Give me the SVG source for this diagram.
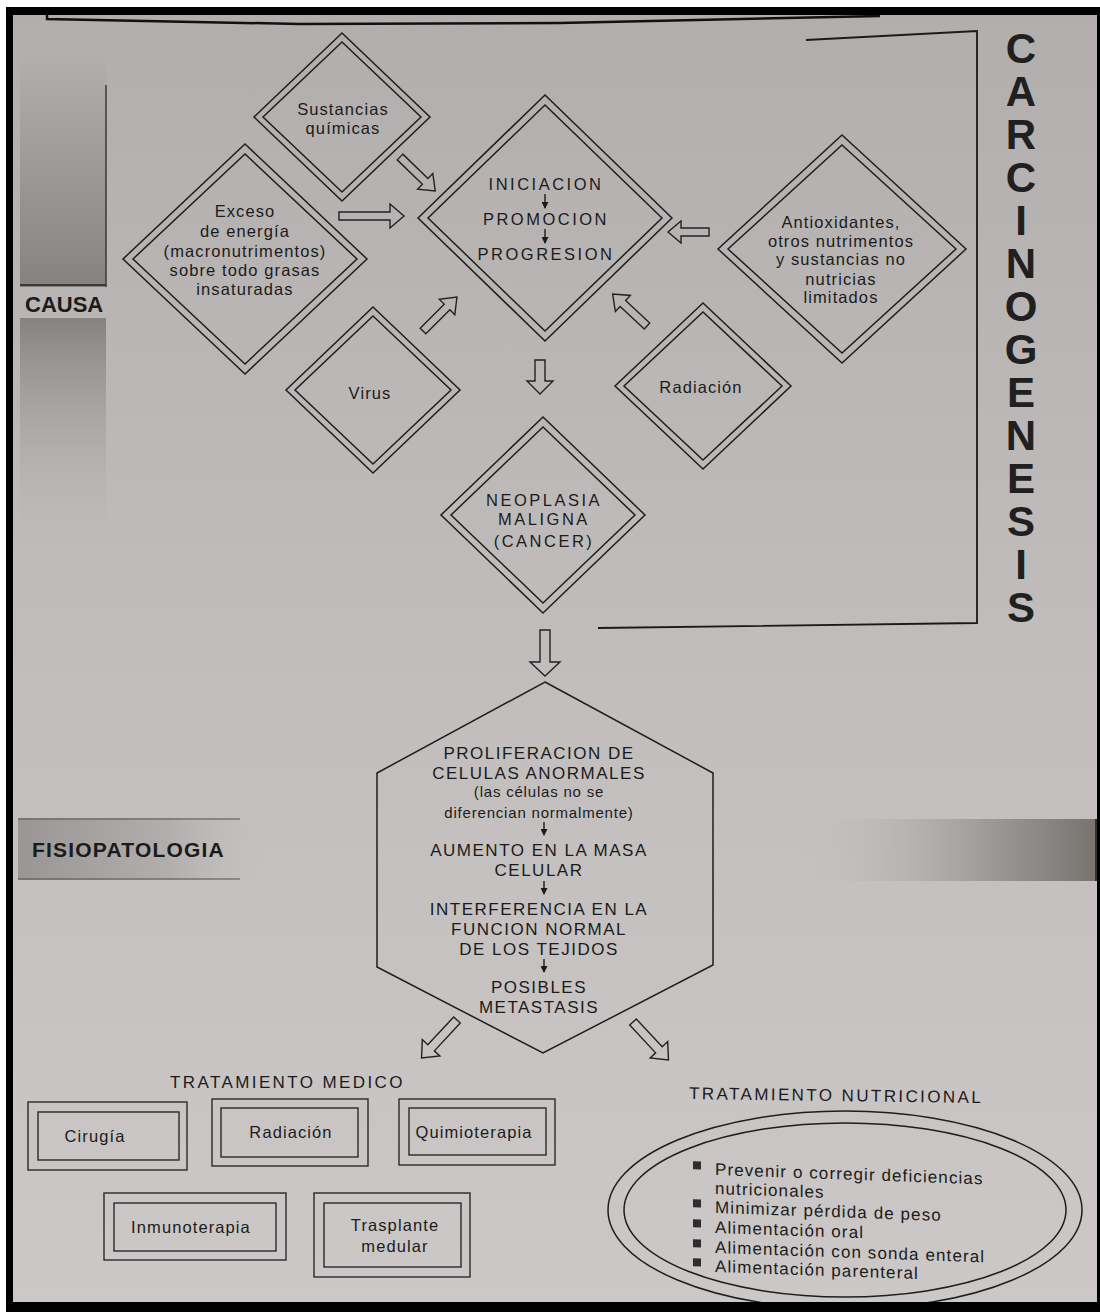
<svg xmlns="http://www.w3.org/2000/svg" width="1100" height="1312" viewBox="0 0 1100 1312">
<defs>
<linearGradient id="paper" x1="0" y1="0" x2="0" y2="1">
<stop offset="0" stop-color="#b2aead"/>
<stop offset="0.5" stop-color="#c1bdbc"/>
<stop offset="1" stop-color="#ccc8c7"/>
</linearGradient>
<linearGradient id="stripTop" x1="0" y1="0" x2="0" y2="1">
<stop offset="0" stop-color="#b3afae"/>
<stop offset="1" stop-color="#86827f"/>
</linearGradient>
<linearGradient id="stripBot" x1="0" y1="0" x2="0" y2="1">
<stop offset="0" stop-color="#86827f"/>
<stop offset="1" stop-color="#c0bcbb" stop-opacity="0"/>
</linearGradient>
<linearGradient id="bandL" x1="0" y1="0" x2="1" y2="0">
<stop offset="0" stop-color="#9a9695"/>
<stop offset="0.6" stop-color="#b2aead"/>
<stop offset="1" stop-color="#c4c0bf" stop-opacity="0"/>
</linearGradient>
<linearGradient id="bandR" x1="0" y1="0" x2="1" y2="0">
<stop offset="0" stop-color="#c4c0bf" stop-opacity="0"/>
<stop offset="0.5" stop-color="#aca8a7"/>
<stop offset="1" stop-color="#77736f"/>
</linearGradient>
<marker id="sm" markerWidth="7" markerHeight="7" refX="6" refY="3.5" orient="auto" markerUnits="userSpaceOnUse">
<path d="M0,0L7,3.5L0,7Z" fill="#1c1c1c"/>
</marker>
</defs>
<style>
.ln{fill:none;stroke:#1e1e1e;stroke-width:1.5}
.bx{fill:none;stroke:#2a2a2a;stroke-width:1.4}
.ar{fill:none;stroke:#222;stroke-width:1.4;stroke-linejoin:miter}
.t{font-family:"Liberation Sans",Arial,sans-serif;font-size:16.5px;letter-spacing:1.1px;fill:#1b1b1b;text-anchor:middle}
.cap{font-family:"Liberation Sans",Arial,sans-serif;font-size:16.5px;letter-spacing:2.5px;fill:#1b1b1b;text-anchor:middle}
.hx{font-family:"Liberation Sans",Arial,sans-serif;font-size:17px;letter-spacing:1.5px;fill:#1b1b1b;text-anchor:middle}
.sm{font-family:"Liberation Sans",Arial,sans-serif;font-size:15px;letter-spacing:0.8px;fill:#1b1b1b;text-anchor:middle}
.big{font-family:"Liberation Sans",Arial,sans-serif;font-size:42px;font-weight:bold;fill:#202020;text-anchor:middle}
.sec{font-family:"Liberation Sans",Arial,sans-serif;font-weight:bold;fill:#1b1b1b}
.hd{font-family:"Liberation Sans",Arial,sans-serif;font-size:17px;letter-spacing:2.4px;fill:#1b1b1b}
.li{font-family:"Liberation Sans",Arial,sans-serif;font-size:17px;letter-spacing:1.1px;fill:#1b1b1b}
.sa{stroke:#1c1c1c;stroke-width:1.4;marker-end:url(#sm)}
</style>

<!-- page / frame -->
<rect x="0" y="0" width="1100" height="1312" fill="#ffffff"/>
<rect x="6" y="7" width="1094" height="1305" fill="#000000"/>
<rect x="13" y="15" width="1084" height="1287" fill="url(#paper)"/>
<polyline points="47,14 47,19 300,24 560,23 880,16" fill="none" stroke="#111" stroke-width="2.5"/>

<!-- side decorations -->
<g id="causa-label">
<rect x="20" y="55" width="86" height="232" fill="url(#stripTop)"/>
<line x1="106" y1="85" x2="106" y2="287" stroke="#3a3a3a" stroke-width="1.5"/>
<line x1="20" y1="285" x2="106" y2="285" stroke="#3a3a3a" stroke-width="2"/>
<rect x="20" y="318" width="86" height="240" fill="url(#stripBot)"/>
<text class="sec" x="25" y="312" font-size="22">CAUSA</text>
</g>
<g id="fisio-label">
<rect x="18" y="818" width="252" height="62" fill="url(#bandL)"/>
<line x1="18" y1="819" x2="240" y2="819" stroke="#555" stroke-width="1.5" stroke-opacity="0.7"/>
<line x1="18" y1="879" x2="240" y2="879" stroke="#555" stroke-width="1.5" stroke-opacity="0.7"/>
<rect x="800" y="819" width="297" height="62" fill="url(#bandR)"/>
<line x1="1096" y1="819" x2="1096" y2="881" stroke="#333" stroke-width="2"/>
<text class="sec" x="32" y="857" font-size="21" letter-spacing="1.2">FISIOPATOLOGIA</text>
</g>

<!-- carcinogenesis bracket and title -->
<g id="carcinogenesis">
<polyline points="806,40 977,31 977,623 598,628" fill="none" stroke="#1a1a1a" stroke-width="1.8"/>
<text class="big"><tspan x="1021" y="63">C</tspan><tspan x="1021" y="106">A</tspan><tspan x="1021" y="149">R</tspan><tspan x="1021" y="192">C</tspan><tspan x="1021" y="235">I</tspan><tspan x="1021" y="278">N</tspan><tspan x="1021" y="321">O</tspan><tspan x="1021" y="364">G</tspan><tspan x="1021" y="407">E</tspan><tspan x="1021" y="450">N</tspan><tspan x="1021" y="493">E</tspan><tspan x="1021" y="536">S</tspan><tspan x="1021" y="579">I</tspan><tspan x="1021" y="622">S</tspan></text>
</g>

<!-- connectors -->
<g id="connectors">
<path class="ar" d="M0,-4H35V-11L49,0L35,11V4H0Z" transform="translate(400,157) rotate(44)"/>
<path class="ar" d="M0,-4H51V-12L65,0L51,12V4H0Z" transform="translate(339,216)"/>
<path class="ar" d="M0,-4H28V-11L41,0L28,11V4H0Z" transform="translate(709,232) rotate(180)"/>
<path class="ar" d="M0,-4H34V-11L48,0L34,11V4H0Z" transform="translate(423,331) rotate(-45)"/>
<path class="ar" d="M0,-4H33V-11L47,0L33,11V4H0Z" transform="translate(647,326) rotate(-137)"/>
<path class="ar" d="M0,-5H21V-13L34,0L21,13V5H0Z" transform="translate(540,360) rotate(90)"/>
<path class="ar" d="M0,-5H32V-15L46,0L32,15V5H0Z" transform="translate(545,630) rotate(90)"/>
<path class="ar" d="M0,-4.5H38V-12L52,0L38,12V4.5H0Z" transform="translate(457,1020) rotate(133)"/>
<path class="ar" d="M0,-4.5H38V-12L52,0L38,12V4.5H0Z" transform="translate(633,1022) rotate(47)"/>
</g>

<!-- causes -->
<g id="n-sustancias">
<polygon class="ln" points="342,33 430,117 342,201 254,117"/>
<polygon class="ln" points="342,42 421,117 342,192 263,117"/>
<text class="t" x="343" y="115">Sustancias</text>
<text class="t" x="343" y="134">químicas</text>
</g>
<g id="n-exceso">
<polygon class="ln" points="245,144 367,259 245,374 123,259"/>
<polygon class="ln" points="245,154 357,259 245,364 133,259"/>
<text class="t" x="245" y="217">Exceso</text>
<text class="t" x="245" y="237">de energía</text>
<text class="t" x="245" y="257">(macronutrimentos)</text>
<text class="t" x="245" y="276">sobre todo grasas</text>
<text class="t" x="245" y="295">insaturadas</text>
</g>
<g id="n-carcinogenesis-stages">
<polygon class="ln" points="545,95 672,218 545,341 418,218"/>
<polygon class="ln" points="545,105 662,218 545,331 428,218"/>
<text class="cap" x="546" y="190">INICIACION</text>
<line class="sa" x1="545" y1="194" x2="545" y2="208"/>
<text class="cap" x="546" y="225">PROMOCION</text>
<line class="sa" x1="545" y1="229" x2="545" y2="243"/>
<text class="cap" x="546" y="260">PROGRESION</text>
</g>
<g id="n-antioxidantes">
<polygon class="ln" points="842,135 966,249 842,363 718,249"/>
<polygon class="ln" points="842,145 956,249 842,353 728,249"/>
<text class="t" x="841" y="228">Antioxidantes,</text>
<text class="t" x="841" y="247">otros nutrimentos</text>
<text class="t" x="841" y="265">y sustancias no</text>
<text class="t" x="841" y="285">nutricias</text>
<text class="t" x="841" y="303">limitados</text>
</g>
<g id="n-virus">
<polygon class="ln" points="373,307 460,390 373,473 286,390"/>
<polygon class="ln" points="373,316 451,390 373,464 295,390"/>
<text class="t" x="370" y="399">Virus</text>
</g>
<g id="n-radiacion">
<polygon class="ln" points="703,303 791,386 703,469 615,386"/>
<polygon class="ln" points="703,312 782,386 703,460 624,386"/>
<text class="t" x="701" y="393">Radiación</text>
</g>
<g id="n-neoplasia">
<polygon class="ln" points="543,417 645,515 543,613 441,515"/>
<polygon class="ln" points="543,427 635,515 543,603 451,515"/>
<text class="cap" x="544" y="506" letter-spacing="3">NEOPLASIA</text>
<text class="cap" x="544" y="525" letter-spacing="3">MALIGNA</text>
<text class="cap" x="544" y="547" letter-spacing="3">(CANCER)</text>
</g>

<!-- pathophysiology -->
<g id="n-fisiopatologia">
<polygon class="ln" points="545,682 713,773 713,965 543,1053 377,967 377,773"/>
<text class="hx" x="539" y="759">PROLIFERACION DE</text>
<text class="hx" x="539" y="779">CELULAS ANORMALES</text>
<text class="sm" x="539" y="797">(las células no se</text>
<text class="sm" x="539" y="818">diferencian normalmente)</text>
<line class="sa" x1="544" y1="822" x2="544" y2="835"/>
<text class="hx" x="539" y="856">AUMENTO EN LA MASA</text>
<text class="hx" x="539" y="876">CELULAR</text>
<line class="sa" x1="544" y1="881" x2="544" y2="894"/>
<text class="hx" x="539" y="915">INTERFERENCIA EN LA</text>
<text class="hx" x="539" y="935">FUNCION NORMAL</text>
<text class="hx" x="539" y="955">DE LOS TEJIDOS</text>
<line class="sa" x1="544" y1="959" x2="544" y2="972"/>
<text class="hx" x="539" y="993">POSIBLES</text>
<text class="hx" x="539" y="1013">METASTASIS</text>
</g>

<!-- medical treatment -->
<g id="tratamiento-medico">
<text class="hd" x="170" y="1088">TRATAMIENTO MEDICO</text>
</g>
<g id="n-cirugia">
<rect class="bx" x="28" y="1102" width="159" height="68"/>
<rect class="bx" x="38" y="1112" width="141" height="48"/>
<text class="t" x="95" y="1142">Cirugía</text>
</g>
<g id="n-radiacion-tx">
<rect class="bx" x="212" y="1099" width="156" height="67"/>
<rect class="bx" x="221" y="1108" width="137" height="49"/>
<text class="t" x="291" y="1138">Radiación</text>
</g>
<g id="n-quimioterapia">
<rect class="bx" x="399" y="1099" width="156" height="66"/>
<rect class="bx" x="409" y="1108" width="137" height="47"/>
<text class="t" x="474" y="1138" letter-spacing="0.8">Quimioterapia</text>
</g>
<g id="n-inmunoterapia">
<rect class="bx" x="104" y="1193" width="182" height="67"/>
<rect class="bx" x="114" y="1203" width="162" height="48"/>
<text class="t" x="191" y="1233">Inmunoterapia</text>
</g>
<g id="n-trasplante">
<rect class="bx" x="314" y="1193" width="156" height="84"/>
<rect class="bx" x="324" y="1203" width="137" height="64"/>
<text class="t" x="395" y="1231">Trasplante</text>
<text class="t" x="395" y="1252">medular</text>
</g>

<!-- nutritional treatment -->
<g id="n-tratamiento-nutricional">
<text class="hd" x="689" y="1099" transform="rotate(0.8 689 1099)">TRATAMIENTO NUTRICIONAL</text>
<ellipse class="ln" cx="845" cy="1210" rx="237" ry="99"/>
<ellipse class="ln" cx="845" cy="1210" rx="221" ry="87"/>
<g transform="matrix(1 0.035 0 1 0 -25)">
<rect x="693" y="1162" width="8" height="8" fill="#2e2e2e"/>
<text class="li" x="715" y="1175">Prevenir o corregir deficiencias</text>
<text class="li" x="715" y="1194">nutricionales</text>
<rect x="693" y="1200" width="8" height="8" fill="#2e2e2e"/>
<text class="li" x="715" y="1213">Minimizar pérdida de peso</text>
<rect x="693" y="1220" width="8" height="8" fill="#2e2e2e"/>
<text class="li" x="715" y="1233">Alimentación oral</text>
<rect x="693" y="1240" width="8" height="8" fill="#2e2e2e"/>
<text class="li" x="715" y="1253">Alimentación con sonda enteral</text>
<rect x="693" y="1259" width="8" height="8" fill="#2e2e2e"/>
<text class="li" x="715" y="1272">Alimentación parenteral</text>
</g>
</g>
<rect x="6" y="1302" width="1094" height="10" fill="#000000"/>
</svg>
